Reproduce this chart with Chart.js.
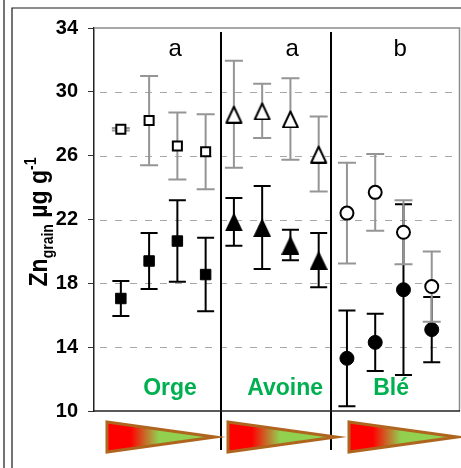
<!DOCTYPE html>
<html>
<head>
<meta charset="utf-8">
<script src="https://cdn.jsdelivr.net/npm/chart.js@4.4.0/dist/chart.umd.min.js"></script>
<style>
    html, body { margin: 0; padding: 0; background: #fff; }
    canvas { display: block; }
</style>
</head>
<body>
<canvas id="chart" width="461" height="468"></canvas>
<script>
// data (Zn grain, µg/g, mean +/- error)
const crops = ["Orge", "Avoine", "Blé"];
const groupLetters = ["a", "a", "b"];
const yTicks = [10, 14, 18, 22, 26, 30, 34];

const orgeX = [0, 1, 2, 3];
const avoineX = [4, 5, 6, 7];
const bleX = [8, 9, 10, 11];

const orgeOpen = [27.65, 28.2, 26.6, 26.25];
const orgeOpenErr = [0.08, 2.8, 2.1, 2.35];
const orgeFilled = [17.05, 19.4, 20.65, 18.55];
const orgeFilledErr = [1.1, 1.75, 2.55, 2.3];

const avoineOpen = [28.6, 28.8, 28.3, 26.1];
const avoineOpenErr = [3.35, 1.7, 2.55, 2.35];
const avoineFilled = [21.85, 21.5, 20.4, 19.45];
const avoineFilledErr = [1.5, 2.6, 0.95, 1.7];

const bleOpen = [22.4, 23.7, 21.2, 17.8];
const bleOpenErr = [3.15, 2.4, 2.0, 2.2];
const bleFilled = [13.3, 14.3, 17.6, 15.1];
const bleFilledErr = [3.0, 1.8, 5.35, 2.05];

const FONT = "'Liberation Sans', Arial, sans-serif";
const GREY_BAR = "#959595";

const pts = (xs, ys) => xs.map((x, i) => ({ x: x, y: ys[i] }));

// triangle markers as small canvases
function triangle(w, h, fill, lw) {
    const c = document.createElement("canvas");
    c.width = w;
    c.height = h;
    const g = c.getContext("2d");
    const p = lw ? lw : 0;
    g.beginPath();
    g.moveTo(w / 2, p);
    g.lineTo(w - p, h - p / 2);
    g.lineTo(p, h - p / 2);
    g.closePath();
    g.fillStyle = fill;
    g.fill();
    if (lw) {
        g.lineWidth = lw;
        g.lineJoin = "round";
        g.strokeStyle = "#000";
        g.stroke();
    }
    return c;
}
const triFilled = triangle(18, 19, "#000", 0);
const triOpen = triangle(19, 19, "#fff", 2);

function openSet(xs, ys, err, style, radius) {
    return {
        data: pts(xs, ys),
        errors: err,
        errorColor: GREY_BAR,
        capWidth: 18,
        pointStyle: style,
        pointRadius: radius,
        pointBackgroundColor: "#fff",
        pointBorderColor: "#000",
        pointBorderWidth: 2,
        showLine: false,
    };
}
function filledSet(xs, ys, err, style, radius) {
    return {
        data: pts(xs, ys),
        errors: err,
        errorColor: "#000",
        capWidth: 17,
        pointStyle: style,
        pointRadius: radius,
        pointBackgroundColor: "#000",
        pointBorderColor: "#000",
        pointBorderWidth: 1,
        showLine: false,
    };
}

const errorBars = {
    id: "errorBars",
    beforeDatasetDraw(chart, args) {
        const ds = chart.data.datasets[args.index];
        if (!ds.errors) return;
        const xs = chart.scales.x;
        const ys = chart.scales.y;
        const ctx = chart.ctx;
        ctx.save();
        ctx.strokeStyle = ds.errorColor;
        ctx.lineWidth = 2;
        ds.data.forEach((p, i) => {
            const x = xs.getPixelForValue(p.x);
            const top = ys.getPixelForValue(p.y + ds.errors[i]);
            const bot = ys.getPixelForValue(p.y - ds.errors[i]);
            const half = ds.capWidth / 2;
            ctx.beginPath();
            ctx.moveTo(x, top);
            ctx.lineTo(x, bot);
            ctx.moveTo(x - half, top);
            ctx.lineTo(x + half, top);
            ctx.moveTo(x - half, bot);
            ctx.lineTo(x + half, bot);
            ctx.stroke();
        });
        ctx.restore();
    },
};

const backdrop = {
    id: "backdrop",
    beforeDatasetsDraw(chart) {
        const ctx = chart.ctx;
        const a = chart.chartArea;
        const xs = chart.scales.x;
        const ys = chart.scales.y;
        ctx.save();
        // dashed grid
        ctx.strokeStyle = "#a8a8a8";
        ctx.lineWidth = 1;
        ctx.setLineDash([7, 8]);
        yTicks.forEach((v) => {
            if (v <= ys.min || v >= ys.max) return;
            const y = Math.round(ys.getPixelForValue(v)) + 0.5;
            ctx.beginPath();
            ctx.moveTo(a.left + 6, y);
            ctx.lineTo(a.right, y);
            ctx.stroke();
        });
        ctx.setLineDash([]);
        // grey top / right frame
        ctx.strokeStyle = "#8c8c8c";
        ctx.lineWidth = 1.5;
        ctx.beginPath();
        ctx.moveTo(a.left, a.top);
        ctx.lineTo(a.right - 0.5, a.top);
        ctx.lineTo(a.right - 0.5, a.bottom);
        ctx.stroke();
        // crop separators
        ctx.strokeStyle = "#000";
        ctx.lineWidth = 2;
        [3.55, 7.45].forEach((s) => {
            const x = Math.round(xs.getPixelForValue(s));
            ctx.beginPath();
            ctx.moveTo(x, a.top + 4);
            ctx.lineTo(x, a.bottom + 39);
            ctx.stroke();
        });
        ctx.restore();
    },
    afterDraw(chart) {
        const ctx = chart.ctx;
        const a = chart.chartArea;
        const xs = chart.scales.x;
        ctx.save();

        // bottom axis
        ctx.strokeStyle = "#222";
        ctx.lineWidth = 1.5;
        ctx.beginPath();
        ctx.moveTo(a.left, a.bottom);
        ctx.lineTo(a.right, a.bottom);
        ctx.stroke();

        // outer frame lines
        ctx.strokeStyle = "#1a1a1a";
        ctx.lineWidth = 1.2;
        ctx.beginPath();
        ctx.moveTo(4, 0);
        ctx.lineTo(4, 468);
        ctx.moveTo(12, 468);
        ctx.lineTo(12, 8);
        ctx.lineTo(461, 8);
        ctx.stroke();

        // significance letters
        ctx.fillStyle = "#000";
        ctx.textAlign = "center";
        ctx.textBaseline = "alphabetic";
        ctx.font = "24px " + FONT;
        [1.92, 6.06, 9.88].forEach((x, i) => {
            ctx.fillText(groupLetters[i], xs.getPixelForValue(x), 56);
        });

        // crop names
        ctx.fillStyle = "#00b050";
        ctx.font = "bold 23px " + FONT;
        [1.74, 5.81, 9.56].forEach((x, i) => {
            ctx.fillText(crops[i], xs.getPixelForValue(x), 395);
        });

        // gradient wedges under the axis
        [107, 228, 349].forEach((left) => {
            const w = 108, top = 422, bot = 452;
            const grad = ctx.createLinearGradient(left, 0, left + w, 0);
            grad.addColorStop(0, "#ff0000");
            grad.addColorStop(0.22, "#ff0000");
            grad.addColorStop(0.48, "#92d050");
            grad.addColorStop(1, "#92d050");
            ctx.beginPath();
            ctx.moveTo(left, top);
            ctx.lineTo(left + w, (top + bot) / 2);
            ctx.lineTo(left, bot);
            ctx.closePath();
            ctx.fillStyle = grad;
            ctx.fill();
            ctx.strokeStyle = "#b0651e";
            ctx.lineWidth = 3;
            ctx.lineJoin = "miter";
            ctx.stroke();
        });

        // y axis title: Zn(grain) µg g-1
        const parts = [
            ["Zn", "bold 23px " + FONT, 0],
            ["grain", "bold 14px " + FONT, 5],
            [" µg g", "bold 23px " + FONT, 0],
            ["-1", "bold 14px " + FONT, -10],
        ];
        let total = 0;
        parts.forEach((p) => {
            ctx.font = p[1];
            total += ctx.measureText(p[0]).width;
        });
        ctx.translate(47, 222);
        ctx.rotate(-Math.PI / 2);
        ctx.scale(1, 1.12);
        ctx.fillStyle = "#000";
        ctx.textAlign = "left";
        let cx = -total / 2;
        parts.forEach((p) => {
            ctx.font = p[1];
            ctx.fillText(p[0], cx, p[2]);
            cx += ctx.measureText(p[0]).width;
        });
        ctx.restore();
    },
};

new Chart(document.getElementById("chart"), {
    type: "scatter",
    data: {
        datasets: [
            openSet(orgeX, orgeOpen, orgeOpenErr, "rect", 6.4),
            openSet(avoineX, avoineOpen, avoineOpenErr, triOpen, 9),
            openSet(bleX, bleOpen, bleOpenErr, "circle", 6.5),
            filledSet(orgeX, orgeFilled, orgeFilledErr, "rect", 7.4),
            filledSet(avoineX, avoineFilled, avoineFilledErr, triFilled, 9),
            filledSet(bleX, bleFilled, bleFilledErr, "circle", 7),
        ],
    },
    options: {
        responsive: false,
        animation: false,
        events: [],
        layout: {
            autoPadding: false,
            padding: { left: 0, top: 28, right: 1, bottom: 57 },
        },
        plugins: {
            legend: { display: false },
            tooltip: { enabled: false },
        },
        scales: {
            x: {
                type: "linear",
                display: false,
                min: -0.95,
                max: 12,
            },
            y: {
                min: 10,
                max: 34,
                afterBuildTicks: (scale) => {
                    scale.ticks = yTicks.map((v) => ({ value: v }));
                },
                afterFit: (scale) => {
                    scale.width = 94;
                },
                grid: {
                    drawOnChartArea: false,
                    drawTicks: true,
                    tickLength: 6,
                    color: "#333",
                    lineWidth: 1,
                },
                border: { display: true, color: "#222", width: 1.5 },
                ticks: {
                    padding: 10,
                    color: "#000",
                    font: { family: FONT, size: 20, weight: "bold" },
                },
            },
        },
    },
    plugins: [errorBars, backdrop],
});
</script>
</body>
</html>
